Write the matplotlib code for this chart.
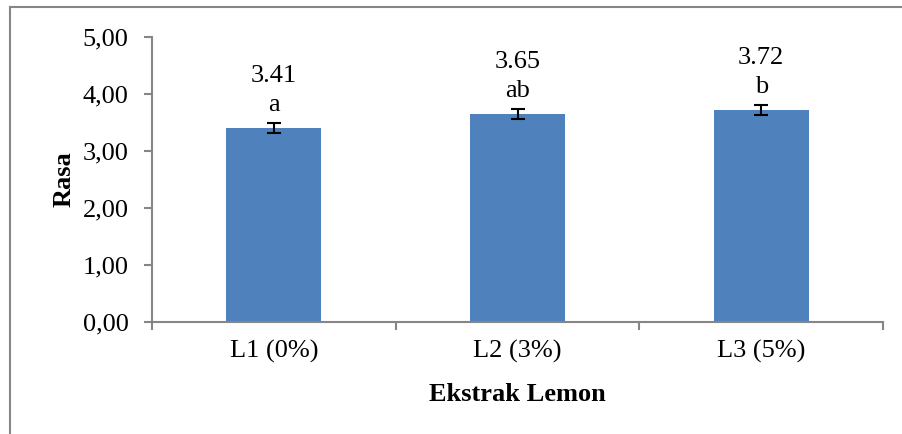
import numpy as np
import matplotlib
matplotlib.use('Agg')
import matplotlib.pyplot as plt
from matplotlib.lines import Line2D

categories = ["L1 (0%)", "L2 (3%)", "L3 (5%)"]
values = [3.41, 3.65, 3.72]
errors = [0.09, 0.09, 0.09]
letters = ["a", "ab", "b"]
yticks = [0, 1, 2, 3, 4, 5]

plt.rcParams['font.family'] = ['Liberation Serif', 'DejaVu Serif']
FS = 19

fig = plt.figure(figsize=(9.02, 4.34), dpi=100)
ax = fig.add_axes([152 / 902, 112 / 434, (883 - 152) / 902, 285 / 434])

x = np.arange(len(categories))
ax.bar(x, values, width=0.39, color='#4F81BD', zorder=2)
ax.errorbar(x, values, yerr=errors, fmt='none', ecolor='black',
            elinewidth=1.5, capsize=5, capthick=1.5, zorder=3)

for xi, v, e, lt in zip(x, values, errors, letters):
    ax.annotate(f"{v:.2f}\n{lt}", (xi, v + e), xytext=(0, 5),
                textcoords='offset points', ha='center', va='bottom',
                fontsize=FS, linespacing=1.4)

ax.set_xlim(-0.5, len(categories) - 0.5)
ax.set_ylim(0, 5)
ax.set_yticks(yticks)
ax.set_yticklabels([f"{t:.2f}".replace('.', ',') for t in yticks], fontsize=FS)
ax.set_xticks(x)
ax.set_xticklabels(categories, fontsize=FS)
ax.set_xticks(np.arange(len(categories) + 1) - 0.5, minor=True)
ax.tick_params(axis='x', which='major', length=0, pad=13)
ax.tick_params(axis='x', which='minor', length=6, width=1.5, color='#868686')
ax.tick_params(axis='y', length=6, width=1.5, color='#868686', pad=11)

for side in ['top', 'right']:
    ax.spines[side].set_visible(False)
for side in ['left', 'bottom']:
    ax.spines[side].set_color('#868686')
    ax.spines[side].set_linewidth(1.5)

ax.set_ylabel("Rasa", fontsize=FS, fontweight='bold', labelpad=5)
ax.set_xlabel("Ekstrak Lemon", fontsize=FS, fontweight='bold', labelpad=14)

# outer chart border (left and top edges visible)
fig.add_artist(Line2D([10 / 902, 10 / 902], [0, 1 - 7 / 434],
                      transform=fig.transFigure, color='#868686', lw=1.5))
fig.add_artist(Line2D([10 / 902, 1], [1 - 7 / 434, 1 - 7 / 434],
                      transform=fig.transFigure, color='#868686', lw=1.5))

fig.savefig("out.png", dpi=100)
